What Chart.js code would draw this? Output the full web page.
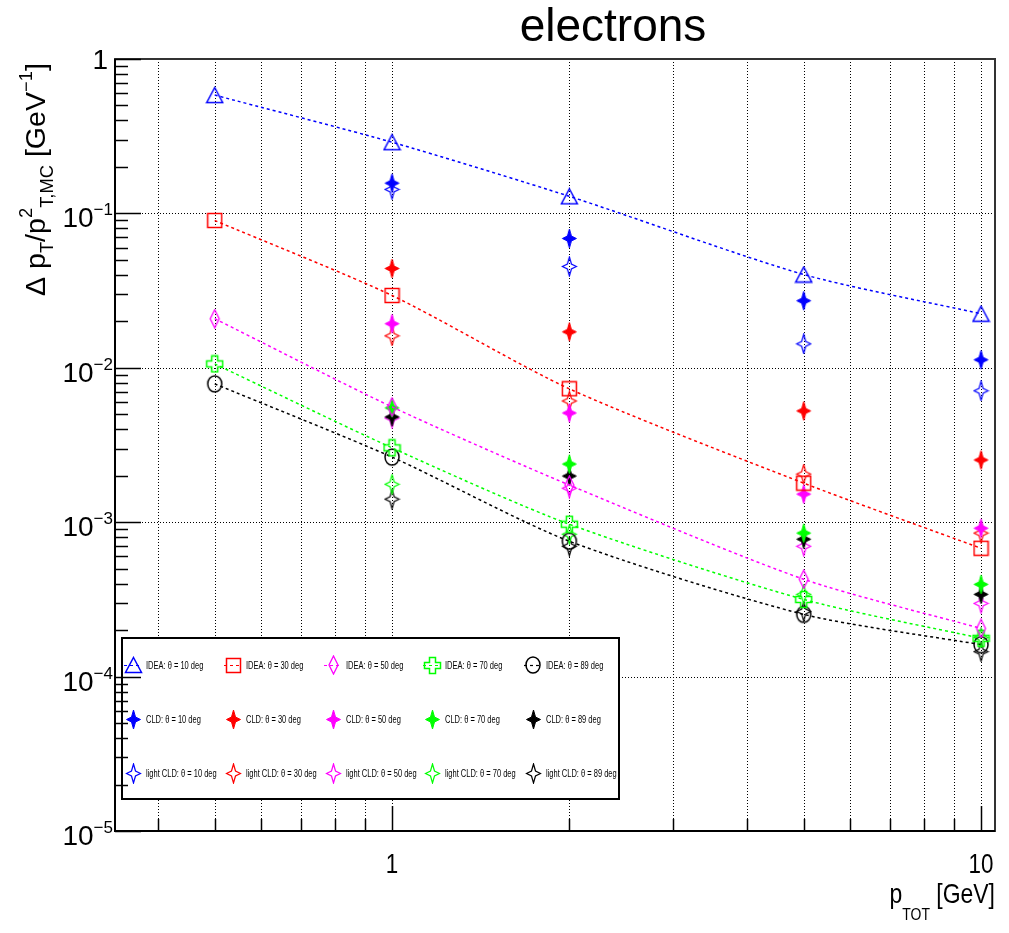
<!DOCTYPE html>
<html>
<head>
<meta charset="utf-8">
<script src="https://cdn.jsdelivr.net/npm/chart.js@4.4.1/dist/chart.umd.min.js"></script>
<style>
  html, body { margin: 0; padding: 0; background: #fff; }
  #wrap { width: 1009px; height: 933px; }
</style>
</head>
<body>
<div id="wrap"><canvas id="chart" width="1009" height="933"></canvas></div>
<script>
// momentum points
const pTot = [0.5, 1, 2, 5, 10];
const pTotCLD = [1, 2, 5, 10];

// IDEA (lines + open markers)
const idea10 = [0.584, 0.289, 0.129, 0.0402, 0.0224];
const idea30 = [0.090, 0.0294, 0.00731, 0.00179, 0.000678];
const idea50 = [0.0208, 0.00558, 0.00174, 0.000427, 0.000205];
const idea70 = [0.0106, 0.00303, 0.00097, 0.000316, 0.000177];
const idea89 = [0.00787, 0.00264, 0.000753, 0.000253, 0.000161];

// CLD (full stars)
const cld10 = [0.157, 0.0688, 0.0272, 0.01127];
const cld30 = [0.044, 0.0171, 0.00526, 0.00253];
const cld50 = [0.0193, 0.0051, 0.00152, 0.000914];
const cld70 = [0.0055, 0.00238, 0.00085, 0.000396];
const cld89 = [0.00481, 0.00199, 0.000776, 0.000341];

// light CLD (open stars)
const light10 = [0.143, 0.0453, 0.0143, 0.0071];
const light30 = [0.0161, 0.0061, 0.00205, 0.00085];
const light50 = [0.00473, 0.00166, 0.000698, 0.000298];
const light70 = [0.00176, 0.000836, 0.000341, 0.000179];
const light89 = [0.00141, 0.000698, 0.000264, 0.000145];

const angles = [10, 30, 50, 70, 89];
const colors = ['#0000ff', '#ff0000', '#ff00ff', '#00ff00', '#000000'];

const xMinorTicks = [0.4, 0.5, 0.6, 0.7, 0.8, 0.9, 2, 3, 4, 5, 6, 7, 8, 9];
const xMajorTicks = [1, 10];
const yDecades = [1, 1e-1, 1e-2, 1e-3, 1e-4, 1e-5];

const FONT = '"Liberation Sans", Arial, Helvetica, sans-serif';

// ---- marker images ----
function mk(w, h, draw) {
    const c = document.createElement('canvas');
    c.width = w; c.height = h;
    const g = c.getContext('2d');
    draw(g, w, h);
    return c;
}
function triangle(col) {
    return mk(19, 18, g => {
        g.strokeStyle = col; g.lineWidth = 1.5;
        g.beginPath(); g.moveTo(9.5, 1.5); g.lineTo(17.5, 16.5); g.lineTo(1.5, 16.5); g.closePath(); g.stroke();
    });
}
function square(col) {
    return mk(17, 17, g => {
        g.strokeStyle = col; g.lineWidth = 1.5;
        g.strokeRect(1.5, 1.5, 14, 14);
    });
}
function diamond(col) {
    return mk(13, 20, g => {
        g.strokeStyle = col; g.lineWidth = 1.3;
        g.beginPath(); g.moveTo(6.5, 1); g.lineTo(11, 10); g.lineTo(6.5, 19); g.lineTo(2, 10); g.closePath(); g.stroke();
    });
}
function openCross(col) {
    return mk(19, 19, g => {
        g.strokeStyle = col; g.lineWidth = 1.5;
        const c = 9.5, a = 3, e = 8;
        g.beginPath();
        g.moveTo(c - a, c - e); g.lineTo(c + a, c - e); g.lineTo(c + a, c - a); g.lineTo(c + e, c - a);
        g.lineTo(c + e, c + a); g.lineTo(c + a, c + a); g.lineTo(c + a, c + e); g.lineTo(c - a, c + e);
        g.lineTo(c - a, c + a); g.lineTo(c - e, c + a); g.lineTo(c - e, c - a); g.lineTo(c - a, c - a);
        g.closePath(); g.stroke();
    });
}
function circle(col) {
    return mk(18, 20, g => {
        g.strokeStyle = col; g.lineWidth = 1.5;
        g.beginPath(); g.ellipse(9, 10, 7, 8, 0, 0, Math.PI * 2); g.stroke();
    });
}
function star4(col, filled) {
    return mk(17, 21, g => {
        const cx = 8.5, cy = 10.5;
        g.strokeStyle = col; g.fillStyle = col; g.lineWidth = filled ? 1 : 1.2;
        g.beginPath();
        g.moveTo(cx, 1); g.lineTo(cx + 2, cy - 2.5); g.lineTo(cx + 7, cy); g.lineTo(cx + 2, cy + 2.5);
        g.lineTo(cx, 20); g.lineTo(cx - 2, cy + 2.5); g.lineTo(cx - 7, cy); g.lineTo(cx - 2, cy - 2.5);
        g.closePath();
        if (filled) g.fill();
        g.stroke();
    });
}

const ideaMarkers = [triangle(colors[0]), square(colors[1]), diamond(colors[2]), openCross(colors[3]), circle(colors[4])];

function pts(xs, ys) { return xs.map((x, i) => ({ x: x, y: ys[i] })); }

const ideaSeries = [idea10, idea30, idea50, idea70, idea89];
const cldSeries = [cld10, cld30, cld50, cld70, cld89];
const lightSeries = [light10, light30, light50, light70, light89];

const datasets = [];
ideaSeries.forEach((s, i) => datasets.push({
    label: `IDEA: θ = ${angles[i]} deg`,
    data: pts(pTot, s),
    showLine: true,
    borderColor: colors[i],
    borderWidth: 1.5,
    borderDash: [3, 3],
    tension: 0.25,
    pointStyle: ideaMarkers[i],
    legendDash: true
}));
cldSeries.forEach((s, i) => datasets.push({
    label: `CLD: θ = ${angles[i]} deg`,
    data: pts(pTotCLD, s),
    showLine: false,
    borderColor: colors[i],
    pointStyle: star4(colors[i], true)
}));
lightSeries.forEach((s, i) => datasets.push({
    label: `light CLD: θ = ${angles[i]} deg`,
    data: pts(pTotCLD, s),
    showLine: false,
    borderColor: colors[i],
    pointStyle: star4(colors[i], false)
}));

// text with sub/superscripts, hs = horizontal squeeze
function drawParts(ctx, x, y, parts, align, hs) {
    hs = hs || 1;
    let w = 0;
    parts.forEach(p => {
        ctx.font = p.s + 'px ' + FONT;
        p.w = ctx.measureText(p.t).width * hs;
        w += p.w;
    });
    let cx = align === 'right' ? x - w : align === 'center' ? x - w / 2 : x;
    parts.forEach(p => {
        ctx.save();
        ctx.translate(cx, y + (p.dy || 0));
        ctx.scale(hs, 1);
        ctx.font = p.s + 'px ' + FONT;
        ctx.textAlign = 'left';
        ctx.textBaseline = 'alphabetic';
        ctx.fillStyle = '#000';
        ctx.fillText(p.t, 0, 0);
        ctx.restore();
        cx += p.w;
    });
}

const rootFrame = {
    id: 'rootFrame',
    beforeDatasetsDraw(chart) {
        const { ctx, chartArea: a, scales: { x, y } } = chart;
        ctx.save();
        ctx.strokeStyle = '#000';
        ctx.lineWidth = 1;
        ctx.setLineDash([1, 2]);
        xMinorTicks.concat(xMajorTicks).forEach(v => {
            const px = Math.round(x.getPixelForValue(v)) + 0.5;
            ctx.beginPath(); ctx.moveTo(px, a.top); ctx.lineTo(px, a.bottom); ctx.stroke();
        });
        yDecades.slice(1, -1).forEach(v => {
            const py = Math.round(y.getPixelForValue(v)) + 0.5;
            ctx.beginPath(); ctx.moveTo(a.left, py); ctx.lineTo(a.right, py); ctx.stroke();
        });
        ctx.restore();
    },
    afterDatasetsDraw(chart) {
        const { ctx } = chart;
        ctx.save();
        // legend box
        const L = { left: 122, top: 638, right: 619, bottom: 799 };
        ctx.fillStyle = '#fff';
        ctx.fillRect(L.left, L.top, L.right - L.left, L.bottom - L.top);
        ctx.strokeStyle = '#000';
        ctx.lineWidth = 2;
        ctx.strokeRect(L.left, L.top, L.right - L.left, L.bottom - L.top);
        const colX = [133, 233, 333, 432, 533];
        const rowY = [665, 719, 773];
        for (let r = 0; r < 3; r++) {
            for (let c = 0; c < 5; c++) {
                const ds = chart.data.datasets[r * 5 + c];
                const mx = colX[c], my = rowY[r];
                if (ds.legendDash) {
                    ctx.save();
                    ctx.strokeStyle = ds.borderColor; ctx.lineWidth = 1.2; ctx.setLineDash([3, 3]);
                    ctx.beginPath(); ctx.moveTo(mx - 9, my + 0.5); ctx.lineTo(mx + 9, my + 0.5); ctx.stroke();
                    ctx.restore();
                }
                const img = ds.pointStyle;
                ctx.drawImage(img, Math.round(mx - img.width / 2), Math.round(my - img.height / 2));
                drawParts(ctx, mx + 13, my + 4, [{ t: ds.label, s: 10 }], 'left', 0.75);
            }
        }
        ctx.restore();
    },
    afterDraw(chart) {
        const { ctx, chartArea: a, scales: { x, y } } = chart;
        ctx.save();
        // frame
        ctx.strokeStyle = '#333';
        ctx.lineWidth = 2;
        ctx.strokeRect(a.left, a.top, a.right - a.left, a.bottom - a.top);
        ctx.strokeStyle = '#000';
        ctx.beginPath(); ctx.moveTo(a.left, a.top); ctx.lineTo(a.left, a.bottom); ctx.lineTo(a.right, a.bottom); ctx.stroke();

        // ticks
        ctx.lineWidth = 1.5;
        xMinorTicks.forEach(v => {
            const px = Math.round(x.getPixelForValue(v)) + 0.5;
            ctx.beginPath(); ctx.moveTo(px, a.bottom); ctx.lineTo(px, a.bottom - 12); ctx.stroke();
        });
        xMajorTicks.forEach(v => {
            const px = Math.round(x.getPixelForValue(v)) + 0.5;
            ctx.beginPath(); ctx.moveTo(px, a.bottom); ctx.lineTo(px, a.bottom - 25); ctx.stroke();
        });
        yDecades.forEach(d => {
            const py = Math.round(y.getPixelForValue(d)) + 0.5;
            ctx.beginPath(); ctx.moveTo(a.left, py); ctx.lineTo(a.left + 26, py); ctx.stroke();
            if (d > 1e-5) {
                for (let k = 2; k <= 9; k++) {
                    const m = Math.round(y.getPixelForValue(d / 10 * k)) + 0.5;
                    ctx.beginPath(); ctx.moveTo(a.left, m); ctx.lineTo(a.left + 13, m); ctx.stroke();
                }
            }
        });

        // y tick labels
        yDecades.forEach(d => {
            const py = y.getPixelForValue(d);
            const e = Math.round(Math.log10(d));
            if (e === 0) {
                drawParts(ctx, 108, py + 10, [{ t: '1', s: 28 }], 'right');
            } else {
                drawParts(ctx, 113, py + 14, [{ t: '10', s: 28 }, { t: '\u2212' + (-e), s: 17, dy: -12 }], 'right');
            }
        });
        // x tick labels
        xMajorTicks.forEach(v => {
            drawParts(ctx, x.getPixelForValue(v), 873, [{ t: String(v), s: 28 }], 'center', 0.8);
        });

        // x title
        drawParts(ctx, 995, 903, [
            { t: 'p', s: 28 }, { t: 'TOT', s: 17, dy: 17 }, { t: ' [GeV]', s: 28 }
        ], 'right', 0.82);

        // y title (rotated)
        ctx.save();
        ctx.translate(45, 296);
        ctx.rotate(-Math.PI / 2);
        drawParts(ctx, 0, 0, [
            { t: 'Δ p', s: 28 }, { t: 'T', s: 18, dy: 8 }, { t: '/p', s: 28 },
            { t: '2', s: 18, dy: -13 }, { t: 'T,MC', s: 18, dy: 8 }, { t: ' [GeV', s: 28 },
            { t: '\u22121', s: 18, dy: -13 }, { t: ']', s: 28 }
        ], 'left', 1.02);
        ctx.restore();

        // title
        drawParts(ctx, 613, 41, [{ t: 'electrons', s: 46 }], 'center');
        ctx.restore();
    }
};

const chart = new Chart(document.getElementById('chart'), {
    type: 'scatter',
    data: { datasets: datasets },
    options: {
        responsive: false,
        animation: false,
        devicePixelRatio: 1,
        layout: { padding: { left: 115, right: 14, top: 59, bottom: 102 } },
        plugins: { legend: { display: false }, tooltip: { enabled: false }, title: { display: false } },
        scales: {
            x: { type: 'logarithmic', bounds: 'data', min: 0.3386, max: 10.56, display: false },
            y: { type: 'logarithmic', bounds: 'data', min: 1e-5, max: 1, display: false }
        },
        elements: { point: { radius: 8 } }
    },
    plugins: [rootFrame]
});
</script>
</body>
</html>
